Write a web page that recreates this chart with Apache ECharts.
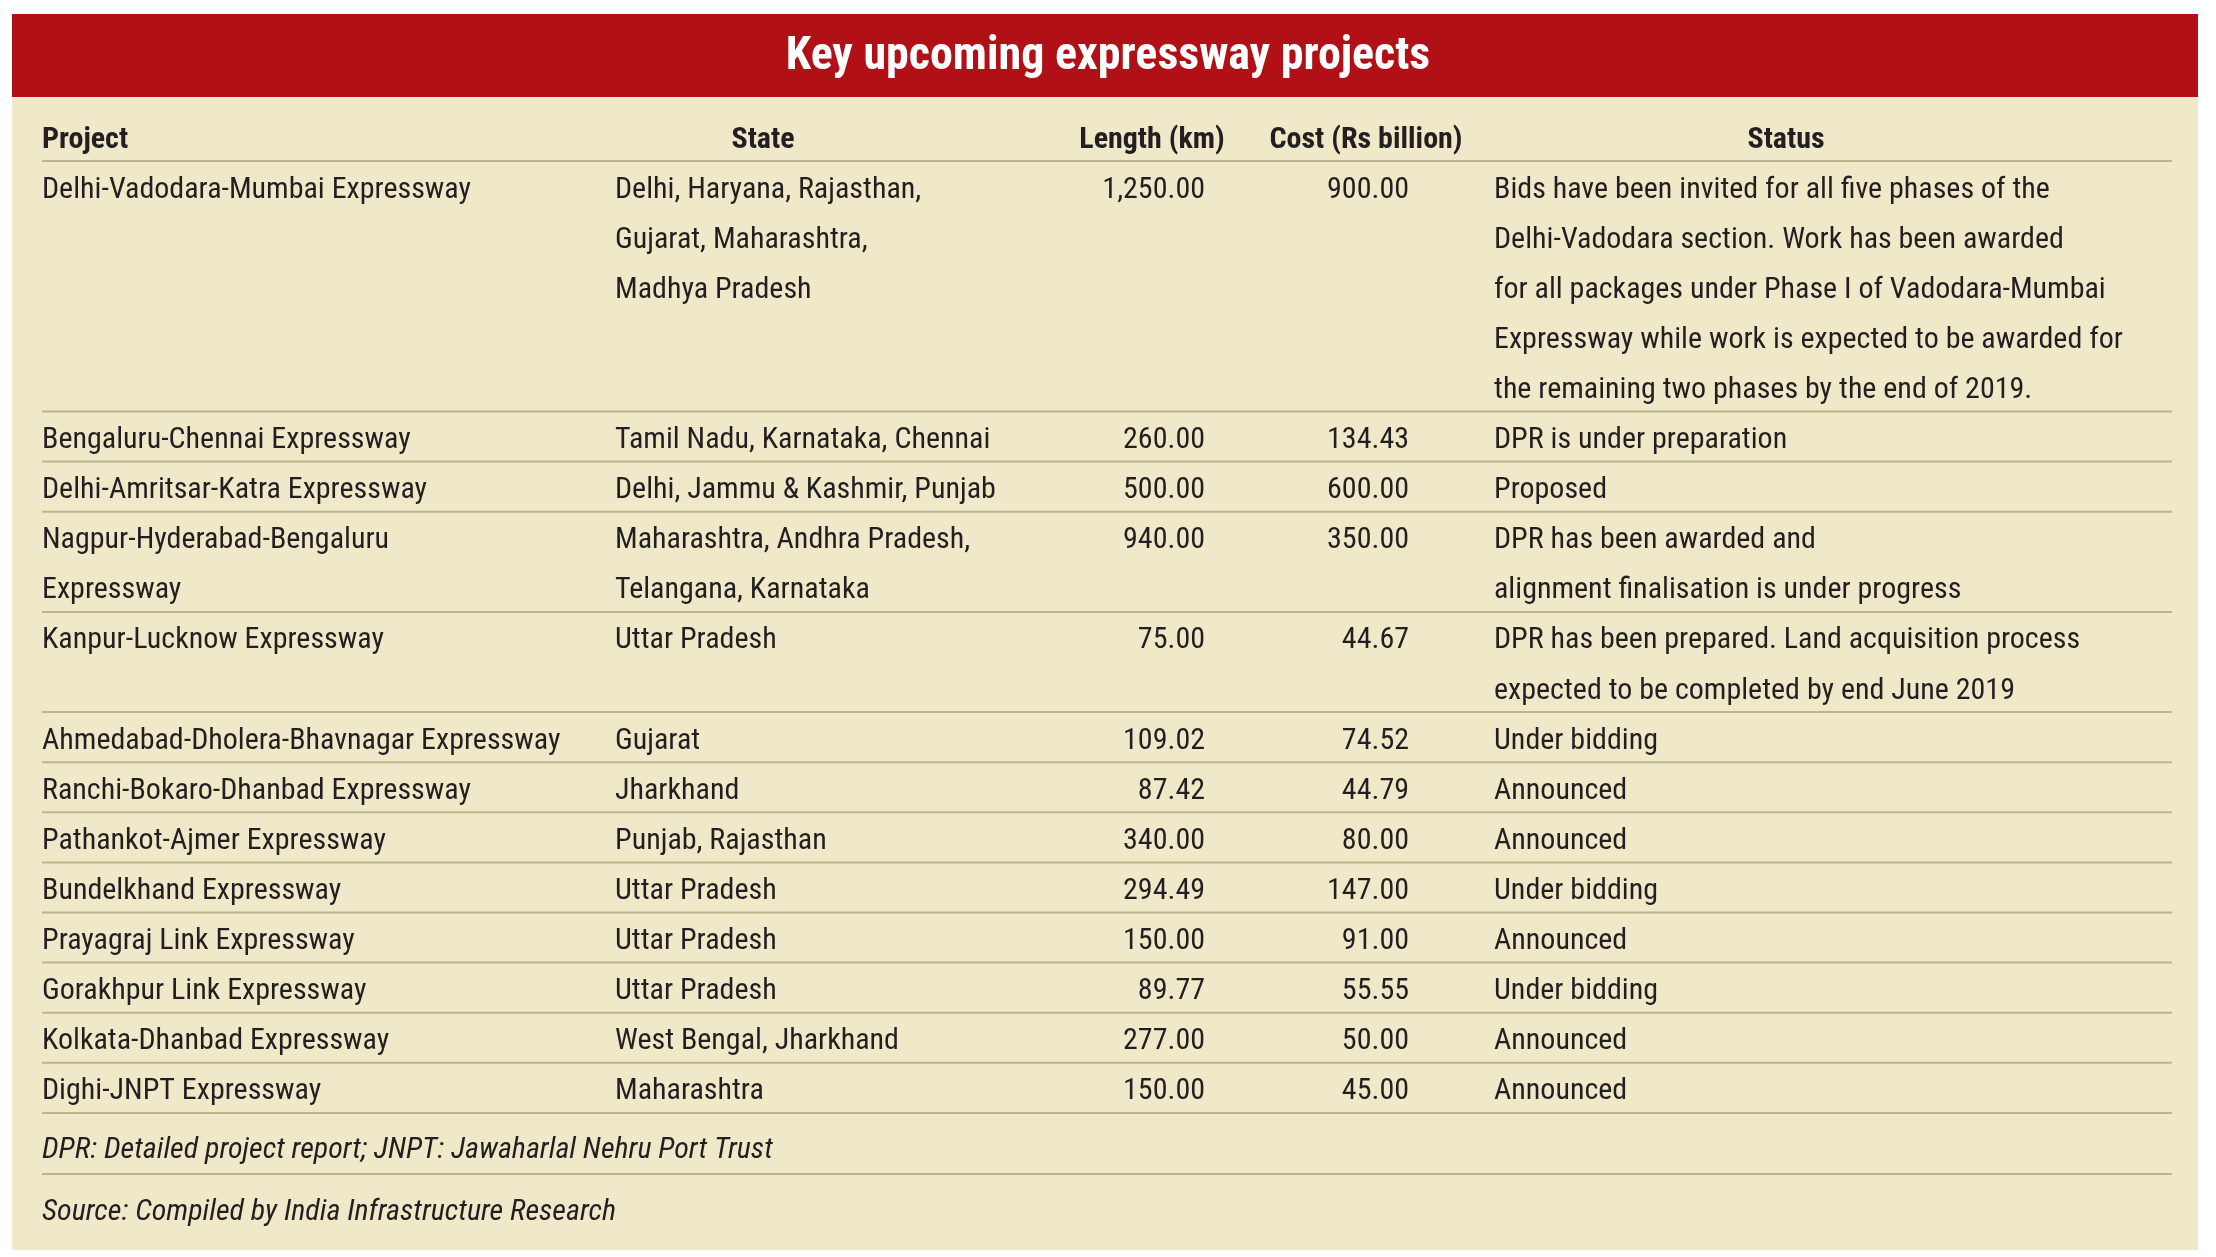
<!DOCTYPE html>
<html><head><meta charset="utf-8">
<script src="https://cdn.jsdelivr.net/npm/echarts@6/dist/echarts.min.js"></script>
<style>html,body{margin:0;padding:0;background:#fff}#container{width:2216px;height:1257px}</style>
</head><body><div id="container"></div>
<script>
var title = 'Key upcoming expressway projects';
var headers = ['Project', 'State', 'Length (km)', 'Cost (Rs billion)', 'Status'];
var projects = [
  ['Delhi-Vadodara-Mumbai Expressway'], ['Bengaluru-Chennai Expressway'], ['Delhi-Amritsar-Katra Expressway'],
  ['Nagpur-Hyderabad-Bengaluru', 'Expressway'], ['Kanpur-Lucknow Expressway'], ['Ahmedabad-Dholera-Bhavnagar Expressway'],
  ['Ranchi-Bokaro-Dhanbad Expressway'], ['Pathankot-Ajmer Expressway'], ['Bundelkhand Expressway'],
  ['Prayagraj Link Expressway'], ['Gorakhpur Link Expressway'], ['Kolkata-Dhanbad Expressway'], ['Dighi-JNPT Expressway']
];
var states = [
  ['Delhi, Haryana, Rajasthan,', 'Gujarat, Maharashtra,', 'Madhya Pradesh'], ['Tamil Nadu, Karnataka, Chennai'],
  ['Delhi, Jammu & Kashmir, Punjab'], ['Maharashtra, Andhra Pradesh,', 'Telangana, Karnataka'], ['Uttar Pradesh'],
  ['Gujarat'], ['Jharkhand'], ['Punjab, Rajasthan'], ['Uttar Pradesh'], ['Uttar Pradesh'], ['Uttar Pradesh'],
  ['West Bengal, Jharkhand'], ['Maharashtra']
];
var lengths = [1250, 260, 500, 940, 75, 109.02, 87.42, 340, 294.49, 150, 89.77, 277, 150];
var costs = [900, 134.43, 600, 350, 44.67, 74.52, 44.79, 80, 147, 91, 55.55, 50, 45];
var statuses = [
  ['Bids have been invited for all five phases of the', 'Delhi-Vadodara section. Work has been awarded',
   'for all packages under Phase I of Vadodara-Mumbai', 'Expressway while work is expected to be awarded for',
   'the remaining two phases by the end of 2019.'],
  ['DPR is under preparation'], ['Proposed'], ['DPR has been awarded and', 'alignment finalisation is under progress'],
  ['DPR has been prepared. Land acquisition process', 'expected to be completed by end June 2019'],
  ['Under bidding'], ['Announced'], ['Announced'], ['Under bidding'], ['Announced'], ['Under bidding'],
  ['Announced'], ['Announced']
];
var notes = ['DPR: Detailed project report; JNPT: Jawaharlal Nehru Port Trust', 'Source: Compiled by India Infrastructure Research'];

var FONT = '"Liberation Sans Narrow", "Roboto Condensed", "Liberation Sans", sans-serif';
var lineH = 50.1, fs = 30, ink = '#231f20', rule = '#b9b68c';
var L = 42, R = 2172;
function fmt(v) { return v.toLocaleString('en-US', {minimumFractionDigits: 2, maximumFractionDigits: 2}); }
function txt(x, y, s, align, extra) {
  var st = {x: x, y: y, text: s, fill: ink, font: 'normal ' + fs + 'px ' + FONT, textAlign: align || 'left', textVerticalAlign: 'middle'};
  for (var k in extra || {}) st[k] = extra[k];
  return {type: 'text', style: st};
}
function hline(y) {
  return {type: 'line', shape: {x1: L, y1: y, x2: R, y2: y}, style: {stroke: rule, lineWidth: 2}};
}

var els = [
  {type: 'rect', shape: {x: 12, y: 14, width: 2186, height: 1236}, style: {fill: '#efe9c9'}},
  {type: 'rect', shape: {x: 12, y: 14, width: 2186, height: 83}, style: {fill: '#b01016'}},
  txt(1108, 57, title, 'center', {fill: '#fff', font: 'bold 46px ' + FONT})
];
var hb = {font: 'bold ' + fs + 'px ' + FONT};
els.push(txt(L, 140, headers[0], 'left', hb));
els.push(txt(763, 140, headers[1], 'center', hb));
els.push(txt(1152, 140, headers[2], 'center', hb));
els.push(txt(1366, 140, headers[3], 'center', hb));
els.push(txt(1786, 140, headers[4], 'center', hb));
var y = 161;
els.push(hline(y));
projects.forEach(function (p, i) {
  var n = Math.max(p.length, states[i].length, statuses[i].length);
  for (var j = 0; j < n; j++) {
    var cy = y + 29 + j * lineH;
    if (p[j]) els.push(txt(L, cy, p[j]));
    if (states[i][j]) els.push(txt(615, cy, states[i][j]));
    if (statuses[i][j]) els.push(txt(1494, cy, statuses[i][j]));
  }
  els.push(txt(1205, y + 29, fmt(lengths[i]), 'right'));
  els.push(txt(1409, y + 29, fmt(costs[i]), 'right'));
  y += n * lineH;
  els.push(hline(y));
});
els.push(txt(L, 1150, notes[0], 'left', {font: 'italic ' + fs + 'px ' + FONT}));
els.push(hline(1174));
els.push(txt(L, 1212, notes[1], 'left', {font: 'italic ' + fs + 'px ' + FONT}));

var myChart = echarts.init(document.getElementById('container'), null, {renderer: 'canvas'});
myChart.setOption({animation: false, graphic: {elements: els}});
</script></body></html>
